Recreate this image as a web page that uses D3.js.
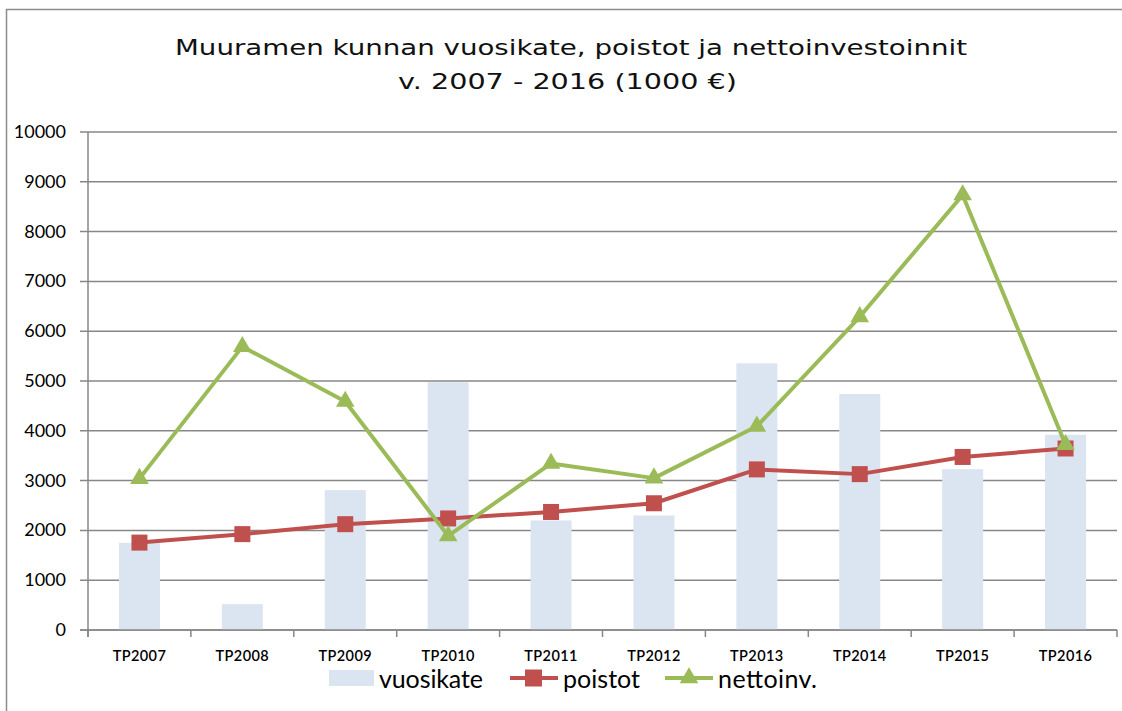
<!DOCTYPE html>
<html><head><meta charset="utf-8">
<script src="https://cdn.jsdelivr.net/npm/d3@7"></script>
<style>body{margin:0;background:#fff}svg{display:block}</style>
</head><body>
<svg id="c" width="1122" height="711"></svg>
<script>
const categories = ["TP2007","TP2008","TP2009","TP2010","TP2011","TP2012","TP2013","TP2014","TP2015","TP2016"];
const vuosikate = [1750, 520, 2810, 4975, 2200, 2300, 5355, 4740, 3230, 3920];
const poistot   = [1755, 1925, 2125, 2240, 2370, 2545, 3225, 3130, 3475, 3645];
const nettoinv  = [3040, 5690, 4590, 1890, 3345, 3050, 4090, 6290, 8735, 3720];
const yTicks = [0,1000,2000,3000,4000,5000,6000,7000,8000,9000,10000];
const titleLines = ["Muuramen kunnan vuosikate, poistot ja nettoinvestoinnit", "v. 2007 - 2016 (1000 €)"];
const seriesNames = ["vuosikate","poistot","nettoinv."];

const svg = d3.select("#c");
const gridC = "#878787";
const red = "#c0504d", green = "#9bbb59", barC = "#dbe5f1";

// outer border
svg.append("path").attr("d","M6.5,711 V9.5 H1122").attr("fill","none").attr("stroke","#8c8c8c").attr("stroke-width",1.5);

// title
const tf = "'DejaVu Sans', Verdana, sans-serif";
svg.append("text").attr("x",175).attr("y",55).attr("textLength",792).attr("lengthAdjust","spacingAndGlyphs")
  .attr("font-family",tf).attr("font-size",22).attr("fill","#111").text(titleLines[0]);
svg.append("text").attr("x",398).attr("y",89).attr("textLength",339).attr("lengthAdjust","spacingAndGlyphs")
  .attr("font-family",tf).attr("font-size",22).attr("fill","#111").text(titleLines[1]);

const L = 88, R = 1117, T = 132, B = 630;
const x = d3.scaleBand().domain(categories).range([L,R]).paddingInner(0).paddingOuter(0);
const y = d3.scaleLinear().domain([0,10000]).range([B,T]);
const cx = d => x(d) + x.bandwidth()/2;

// gridlines
svg.append("g").selectAll("line").data(yTicks).join("line")
  .attr("x1",80).attr("x2",R).attr("y1",d=>y(d)).attr("y2",d=>y(d))
  .attr("stroke",gridC).attr("stroke-width",1.5);
// y axis line
svg.append("line").attr("x1",L).attr("x2",L).attr("y1",T).attr("y2",B+7).attr("stroke",gridC).attr("stroke-width",1.5);
// y labels
svg.append("g").selectAll("text").data(yTicks).join("text")
  .attr("x",66).attr("y",d=>y(d)+6).attr("text-anchor","end")
  .attr("font-family","Lato, 'Open Sans', sans-serif").attr("font-size",18).attr("fill","#000").text(d=>d);
// x ticks
const bounds = categories.map(c=>x(c)).concat([R]);
svg.append("g").selectAll("line").data(bounds).join("line")
  .attr("x1",d=>d).attr("x2",d=>d).attr("y1",B).attr("y2",B+7).attr("stroke",gridC).attr("stroke-width",1.5);
// x labels
svg.append("g").selectAll("text").data(categories).join("text")
  .attr("x",d=>cx(d)).attr("y",661).attr("text-anchor","middle")
  .attr("font-family","Lato, 'Open Sans', sans-serif").attr("font-weight",600).attr("font-size",14.5).attr("letter-spacing",0.4).attr("fill","#000").text(d=>d);

// bars
const bw = 41;
svg.append("g").selectAll("rect").data(vuosikate).join("rect")
  .attr("x",(d,i)=>cx(categories[i])-bw/2).attr("width",bw)
  .attr("y",d=>y(d)).attr("height",d=>B-y(d)).attr("fill",barC);

// redraw base line over bars
svg.append("line").attr("x1",80).attr("x2",R).attr("y1",B).attr("y2",B).attr("stroke",gridC).attr("stroke-width",1.5);

const line = d3.line().x((d,i)=>cx(categories[i])).y(d=>y(d));
// poistot
svg.append("path").datum(poistot).attr("d",line).attr("fill","none").attr("stroke",red).attr("stroke-width",4).attr("stroke-linejoin","round");
svg.append("g").selectAll("rect").data(poistot).join("rect")
  .attr("x",(d,i)=>cx(categories[i])-8).attr("y",d=>y(d)-8).attr("width",16).attr("height",16).attr("fill",red);
// nettoinv
svg.append("path").datum(nettoinv).attr("d",line).attr("fill","none").attr("stroke",green).attr("stroke-width",4).attr("stroke-linejoin","round");
const tri = d3.symbol().type(d3.symbolTriangle).size(150);
svg.append("g").selectAll("path").data(nettoinv).join("path")
  .attr("d",tri).attr("transform",(d,i)=>`translate(${cx(categories[i])},${y(d)})`).attr("fill",green);

// legend
const lg = svg.append("g");
const lf = "Lato, 'Open Sans', sans-serif";
lg.append("rect").attr("x",329).attr("y",670).attr("width",45).attr("height",16).attr("fill",barC);
lg.append("text").attr("x",379).attr("y",688).attr("font-family",lf).attr("font-size",25).attr("textLength",104).attr("lengthAdjust","spacing").text(seriesNames[0]);
lg.append("line").attr("x1",510).attr("x2",558).attr("y1",678).attr("y2",678).attr("stroke",red).attr("stroke-width",4);
lg.append("rect").attr("x",525).attr("y",669.5).attr("width",17).attr("height",17).attr("fill",red);
lg.append("text").attr("x",563).attr("y",688).attr("font-family",lf).attr("font-size",25).attr("textLength",77).attr("lengthAdjust","spacing").text(seriesNames[1]);
lg.append("line").attr("x1",665).attr("x2",713).attr("y1",678).attr("y2",678).attr("stroke",green).attr("stroke-width",4);
lg.append("path").attr("d",tri).attr("transform","translate(689,678)").attr("fill",green);
lg.append("text").attr("x",718).attr("y",688).attr("font-family",lf).attr("font-size",25).attr("textLength",99).attr("lengthAdjust","spacing").text(seriesNames[2]);
</script>
</body></html>
